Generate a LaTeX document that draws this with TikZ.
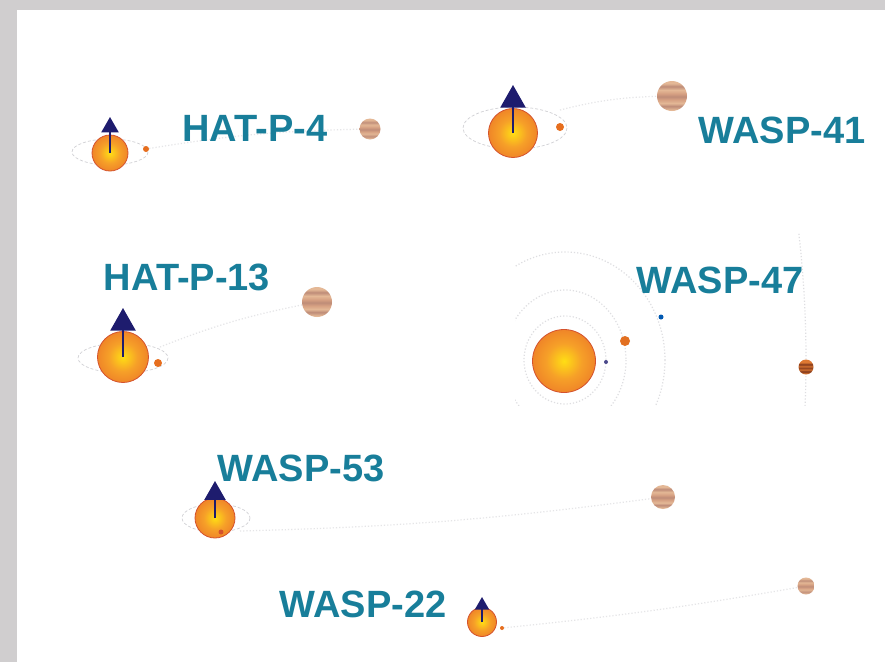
\documentclass[tikz,border=0pt]{standalone}
\usepackage{fontspec}
\setmainfont{Liberation Sans}
\usetikzlibrary{arrows.meta}

\definecolor{frame}{RGB}{208,206,207}
\definecolor{labelteal}{RGB}{24,126,154}
\definecolor{spinnavy}{RGB}{30,28,110}
\definecolor{orbitgray}{RGB}{208,208,212}
\definecolor{starcore}{RGB}{255,222,20}
\definecolor{starmid}{RGB}{246,160,40}
\definecolor{starrim}{RGB}{234,112,40}
\definecolor{staredge}{RGB}{212,82,45}
\definecolor{jA}{RGB}{228,184,150}
\definecolor{jB}{RGB}{190,140,120}
\definecolor{jC}{RGB}{214,160,130}
\definecolor{hA}{RGB}{222,120,50}
\definecolor{hB}{RGB}{120,50,25}
\definecolor{hotp}{RGB}{230,110,30}

% glowing star surface
\pgfdeclareradialshading{starglow}{\pgfpoint{0bp}{0bp}}{%
  color(0bp)=(starcore); color(14bp)=(starmid); color(34bp)=(starrim);
  color(50bp)=(starrim); color(100bp)=(starrim)}
% banded gas giant
\pgfdeclareverticalshading{giantbands}{100bp}{%
  color(0bp)=(jA); color(27bp)=(jA); color(33bp)=(jB); color(38bp)=(jA);
  color(44bp)=(jC); color(49bp)=(jB); color(54bp)=(jC); color(60bp)=(jA);
  color(66bp)=(jB); color(71bp)=(jA); color(100bp)=(jA)}
% darker banded giant of the WASP-47 system
\pgfdeclareverticalshading{hotbands}{100bp}{%
  color(0bp)=(hA); color(28bp)=(hA); color(35bp)=(hB); color(41bp)=(hA);
  color(47bp)=(hB); color(52bp)=(hA); color(59bp)=(hB); color(65bp)=(hA);
  color(100bp)=(hA)}

\tikzset{
  star/.style={circle, inner sep=0pt, minimum size=#1, shading=starglow,
    draw=staredge, line width=0.8pt},
  giant/.style={circle, inner sep=0pt, minimum size=#1, shading=giantbands},
  hotgiant/.style={circle, inner sep=0pt, minimum size=#1, shading=hotbands},
  innerp/.style={circle, inner sep=0pt, minimum size=#1, fill=hotp},
  spin/.style={draw=spinnavy, line width=2pt,
    -{Triangle[width=#1, length=0.9*#1]}},
  orbit/.style={draw=orbitgray, dash pattern=on 3pt off 2pt, line width=0.7pt},
  farorbit/.style={draw=orbitgray!55, dotted, line width=1.2pt},
  sysname/.style={font=\fontsize{38}{42}\selectfont\bfseries, text=labelteal,
    inner sep=0pt}
}

\begin{document}
\begin{tikzpicture}[x=1pt, y=-1pt]
\useasboundingbox (0,0) rectangle (885,662);
\fill[frame] (0,0) rectangle (885,662);
\fill[white] (17,10) rectangle (885,662);

% ---------- HAT-P-4 ----------
\draw[orbit] (110,152) ellipse (38 and 13);
\node[innerp=6pt] (p1) at (146,149) {};
\node[giant=21pt] (j1) at (370,129) {};
\draw[farorbit] (p1) to[bend left=4] (j1);
\node[star=36pt] (s1) at (110,153) {};
\coordinate (t1) at (110,117);
\draw[spin=17pt] (s1.center) -- (t1);
\node[sysname] (n1) at (255,128) {HAT-P-4};

% ---------- WASP-41 ----------
\draw[orbit] (515,128) ellipse (52 and 21);
\node[innerp=8pt] (p2) at (560,127) {};
\node[giant=30pt] (j2) at (672,96) {};
\coordinate (o2) at (560,110);
\draw[farorbit] (o2) to[bend left=6] (j2);
\node[star=49pt] (s2) at (513,133) {};
\coordinate (t2) at (513,85);
\draw[spin=25pt] (s2.center) -- (t2);
\node[sysname] (n2) at (782,130) {WASP-41};

% ---------- HAT-P-13 ----------
\draw[orbit] (123,358) ellipse (45 and 15);
\node[innerp=8pt] (p3) at (158,363) {};
\node[giant=30pt] (j3) at (317,302) {};
\coordinate (o3) at (160,347);
\draw[farorbit] (o3) to[bend left=5] (j3);
\node[star=51pt] (s3) at (123,357) {};
\coordinate (t3) at (123,308);
\draw[spin=25pt] (s3.center) -- (t3);
\node[sysname] (n3) at (187,277) {HAT-P-13};

% ---------- WASP-47 ----------
\begin{scope}
  \clip (515,232) rectangle (822,405);
  \draw[farorbit, draw=orbitgray!70] (565,360) ellipse (41 and 44);
  \draw[farorbit, draw=orbitgray!70] (565,360) ellipse (61 and 70);
  \draw[farorbit, draw=orbitgray!70] (565,360) ellipse (100 and 108);
  \draw[farorbit, draw=orbitgray!70] (565,360) ellipse (241 and 520);
\end{scope}
\node[star=63pt] (s4) at (564,361) {};
\node[circle, inner sep=0pt, minimum size=4pt, fill=spinnavy!80] (p4a) at (606,362) {};
\node[innerp=10pt, fill=hotp!90!brown] (p4b) at (625,341) {};
\node[circle, inner sep=0pt, minimum size=5pt, fill=blue!50!cyan!70!black] (p4c) at (661,317) {};
\node[hotgiant=15pt] (p4d) at (806,367) {};
\node[sysname] (n4) at (720,280) {WASP-47};

% ---------- WASP-53 ----------
\draw[orbit] (216,518) ellipse (34 and 14);
\node[giant=24pt] (j5) at (663,497) {};
\coordinate (o5) at (240,531);
\draw[farorbit] (o5) to[bend right=3] (j5);
\node[star=40pt] (s5) at (215,518) {};
\node[innerp=5pt, fill=staredge] (p5) at (221,532) {};
\coordinate (t5) at (215,481);
\draw[spin=21pt] (s5.center) -- (t5);
\node[sysname] (n5) at (301,468) {WASP-53};

% ---------- WASP-22 ----------
\node[giant=17pt] (j6) at (806,586) {};
\node[innerp=4pt] (p6) at (502,628) {};
\draw[farorbit] (p6) to[bend right=2] (j6);
\node[star=29pt] (s6) at (482,622) {};
\coordinate (t6) at (482,597);
\draw[spin=14pt] (s6.center) -- (t6);
\node[sysname] (n6) at (363,604) {WASP-22};
\end{tikzpicture}
\end{document}
